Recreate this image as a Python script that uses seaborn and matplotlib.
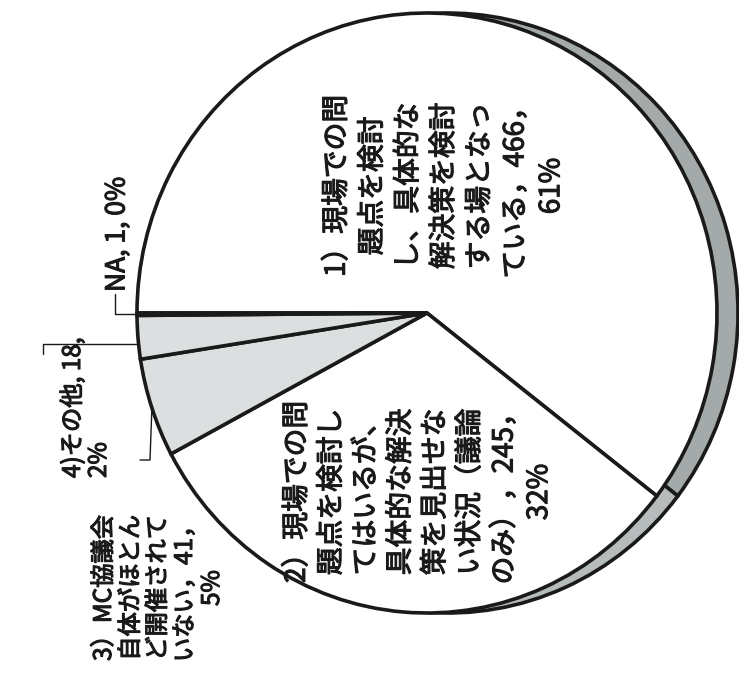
import numpy as np
import matplotlib
matplotlib.use("Agg")
import matplotlib.pyplot as plt
import matplotlib.patheffects as pe
import seaborn as sns

# ---- data -------------------------------------------------------------
categories = [
    "1）現場での問題点を検討し、具体的な解決策を検討する場となっている",
    "2）現場での問題点を検討してはいるが、具体的な解決策を見出せない状況（議論のみ）",
    "3）MC協議会自体がほとんど開催されていない",
    "4)その他",
    "NA",
]
counts = [466, 245, 41, 18, 1]
percents = ["61%", "32%", "5%", "2%", "0%"]

# wrapped label bodies (count and percent are appended from the arrays above)
label_heads = [
    "1）現場での問\n題点を検討\nし、具体的な\n解決策を検討\nする場となっ\nている",
    "2）現場での問\n題点を検討し\nてはいるが、\n具体的な解決\n策を見出せな\nい状況（議論\nのみ）",
    "3）MC協議会\n自体がほとん\nど開催されて\nいない",
    "4)その他",
    "NA",
]

top_colors = ["white", "white", "#dcdfdf", "#dcdfdf", "white"]
side_colors = ["#a4a9a9", "#b6bbbb", "#b6bbbb", "#b6bbbb", "#b6bbbb"]

# ---- figure -----------------------------------------------------------
sns.set_theme(style="white")
plt.rcParams["font.family"] = ["Noto Sans CJK JP", "DejaVu Sans"]

W, H = 739, 678
fig = plt.figure(figsize=(W / 100, H / 100), dpi=100)
fig.patch.set_facecolor("white")

# pie geometry in pixels (tilted pie seen as an ellipse, side wall to the right)
cx, cy = 427, 313
rx, ry = 290, 300
depth = 21

ax = fig.add_axes([0, 0, 1, 1])
wedge_kw = dict(edgecolor="#1a1a1a", linewidth=2.6)

# side wall: same pie shifted sideways, drawn underneath
ax.pie(counts, startangle=180, counterclock=False, colors=side_colors,
       center=(depth / rx, 0), radius=1, wedgeprops=wedge_kw)
# top face
wedges, _ = ax.pie(counts, startangle=180, counterclock=False, colors=top_colors,
                   center=(0, 0), radius=1, wedgeprops=wedge_kw)

ax.set_aspect("auto")
ax.set_xlim(-cx / rx, (W - cx) / rx)
ax.set_ylim(-(H - cy) / ry, cy / ry)
ax.axis("off")

# ---- labels (overlay in pixel coordinates) -----------------------------
tax = fig.add_axes([0, 0, 1, 1], zorder=3)
tax.set_xlim(0, W)
tax.set_ylim(H, 0)
tax.axis("off")
tax.patch.set_alpha(0)


def edge_point(w):
    mid = np.deg2rad((w.theta1 + w.theta2) / 2)
    return cx + rx * np.cos(mid), cy - ry * np.sin(mid)


ink = "#1a1a1a"
txt_kw = dict(rotation=90, color=ink, ha="center",
              path_effects=[pe.withStroke(linewidth=0.8, foreground=ink)])

labels = [f"{label_heads[i]}，{counts[i]}，\n{percents[i]}" for i in range(3)]
labels.append(f"{label_heads[3]}, {counts[3]},\n{percents[3]}")
labels.append(f"{label_heads[4]}, {counts[4]}, {percents[4]}")

tax.text(444, 186, labels[0], va="center", multialignment="center",
         linespacing=1.25, fontsize=20, **txt_kw)
tax.text(418, 492, labels[1], va="center", multialignment="center",
         linespacing=1.2, fontsize=20, **txt_kw)
tax.text(158, 588, labels[2], va="center", multialignment="center",
         linespacing=1.05, fontsize=17.5, **txt_kw)
tax.text(86, 478, labels[3], va="bottom", multialignment="left",
         linespacing=1.0, fontsize=17.5, **txt_kw)
tax.text(117, 292, labels[4], va="bottom", fontsize=19, **txt_kw)

# leader lines
line_kw = dict(color=ink, linewidth=1.0)
ex, ey = edge_point(wedges[4])
tax.plot([ex, 115, 115], [ey, ey, 294], **line_kw)
ex, ey = edge_point(wedges[3])
tax.plot([ex, 43, 43], [ey + 7, ey + 7, ey + 17], **line_kw)
ex, ey = edge_point(wedges[2])
tax.plot([140, 150, ex], [460, 460, ey], **line_kw)

fig.savefig("out.png", dpi=100, facecolor="white")
